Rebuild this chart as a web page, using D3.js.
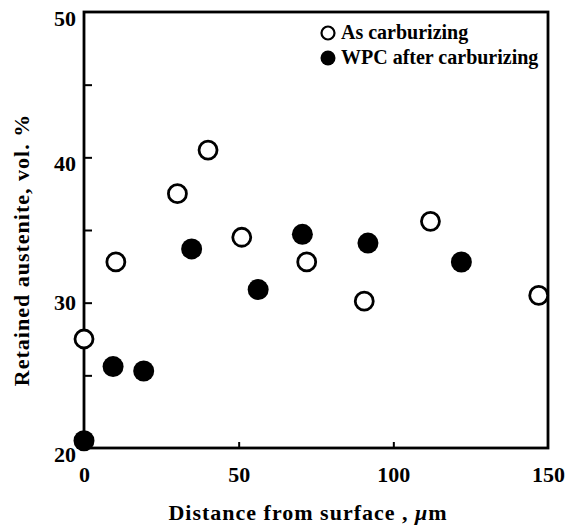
<!DOCTYPE html>
<html>
<head>
<meta charset="utf-8">
<script src="https://cdn.jsdelivr.net/npm/d3@7/dist/d3.min.js"></script>
<style>
  html, body { margin: 0; padding: 0; background: #fff; }
  svg { display: block; }
  .axis text { font-family: "Liberation Serif", "DejaVu Serif", serif; font-weight: bold; font-size: 22px; fill: #000; }
  .axis path { display: none; }
  .axis line { stroke: #000; stroke-width: 2; }
  .title { font-family: "Liberation Serif", "DejaVu Serif", serif; font-weight: bold; font-size: 22px; letter-spacing: 1px; fill: #000; }
  .legend text { font-family: "Liberation Serif", "DejaVu Serif", serif; font-weight: bold; font-size: 20px; fill: #000; }
</style>
</head>
<body>
<svg id="chart" width="583" height="527"></svg>
<script>
// Values (distance in um, retained austenite in vol. %)
var asCarbX = [0, 10.3, 30.2, 40.1, 51, 72, 90.6, 112, 147];
var asCarbY = [27.5, 32.8, 37.5, 40.5, 34.5, 32.8, 30.1, 35.6, 30.5];
var wpcX = [0, 9.4, 19.3, 34.8, 56.3, 70.6, 91.8, 122];
var wpcY = [20.5, 25.6, 25.3, 33.7, 30.9, 34.7, 34.1, 32.8];

var xTicks = [0, 50, 100, 150];
var yTicks = [20, 25, 30, 35, 40, 45, 50];
var seriesNames = ['As carburizing', 'WPC after carburizing'];

var svg = d3.select('#chart');

// plot box (note: "top" is taken by window.top, so use plot* names)
var plotLeft = 84, plotRight = 548, plotTop = 12, plotBottom = 448;

var x = d3.scaleLinear().domain([0, 150]).range([plotLeft, plotRight]),
    y = d3.scaleLinear().domain([20, 50]).range([plotBottom, plotTop]);

// Frame around the plot
svg.append('rect')
  .attr('x', plotLeft).attr('y', plotTop)
  .attr('width', plotRight - plotLeft).attr('height', plotBottom - plotTop)
  .attr('fill', 'none').attr('stroke', '#000').attr('stroke-width', 2.8);

// Y axis, ticks point inward, only every 10 gets a label
var yAxis = d3.axisLeft(y)
  .tickValues(yTicks)
  .tickSize(-8)
  .tickPadding(8)
  .tickFormat(function(d) { return d % 10 === 0 ? d : ''; });

var gy = svg.append('g')
  .attr('class', 'axis')
  .attr('transform', 'translate(' + plotLeft + ',0)')
  .call(yAxis);

// The scanned labels sit a bit below their ticks
gy.selectAll('text').attr('dy', function(d) { return d === 30 ? '0.32em' : '0.6em'; });
gy.selectAll('.tick').filter(function(d) { return d === 20 || d === 50; }).select('line').remove();

// X axis, short inward ticks at 50 and 100
var xAxis = d3.axisBottom(x)
  .tickValues(xTicks)
  .tickSize(-6)
  .tickPadding(18)
  .tickFormat(function(d) { return d; });

var gx = svg.append('g')
  .attr('class', 'axis')
  .attr('transform', 'translate(0,' + plotBottom + ')')
  .call(xAxis);

gx.selectAll('.tick').filter(function(d) { return d === 0 || d === 150; }).select('line').remove();

// Axis titles
var xt = svg.append('text')
  .attr('class', 'title')
  .attr('x', 308).attr('y', 520)
  .attr('text-anchor', 'middle');
xt.append('tspan').text('Distance from surface , ');
xt.append('tspan').attr('font-style', 'italic').text('μ');
xt.append('tspan').text('m');

svg.append('text')
  .attr('class', 'title')
  .attr('transform', 'translate(29,250) rotate(-90)')
  .attr('text-anchor', 'middle')
  .text('Retained austenite, vol. %');

// Data points
svg.append('g').selectAll('circle')
  .data(d3.zip(asCarbX, asCarbY))
  .enter().append('circle')
  .attr('cx', function(d) { return x(d[0]); })
  .attr('cy', function(d) { return y(d[1]); })
  .attr('r', 9)
  .attr('fill', '#fff')
  .attr('stroke', '#000')
  .attr('stroke-width', 2.8);

svg.append('g').selectAll('circle')
  .data(d3.zip(wpcX, wpcY))
  .enter().append('circle')
  .attr('cx', function(d) { return x(d[0]); })
  .attr('cy', function(d) { return y(d[1]); })
  .attr('r', 10.5)
  .attr('fill', '#000');

// Legend
var legend = svg.append('g').attr('class', 'legend');
seriesNames.forEach(function(name, i) {
  var ly = 33 + i * 25;
  legend.append('circle')
    .attr('cx', 328).attr('cy', ly)
    .attr('r', i === 0 ? 6.5 : 7.5)
    .attr('fill', i === 0 ? '#fff' : '#000')
    .attr('stroke', '#000')
    .attr('stroke-width', i === 0 ? 2.2 : 0);
  legend.append('text')
    .attr('x', 341).attr('y', ly + 6)
    .text(name);
});
</script>
</body>
</html>
